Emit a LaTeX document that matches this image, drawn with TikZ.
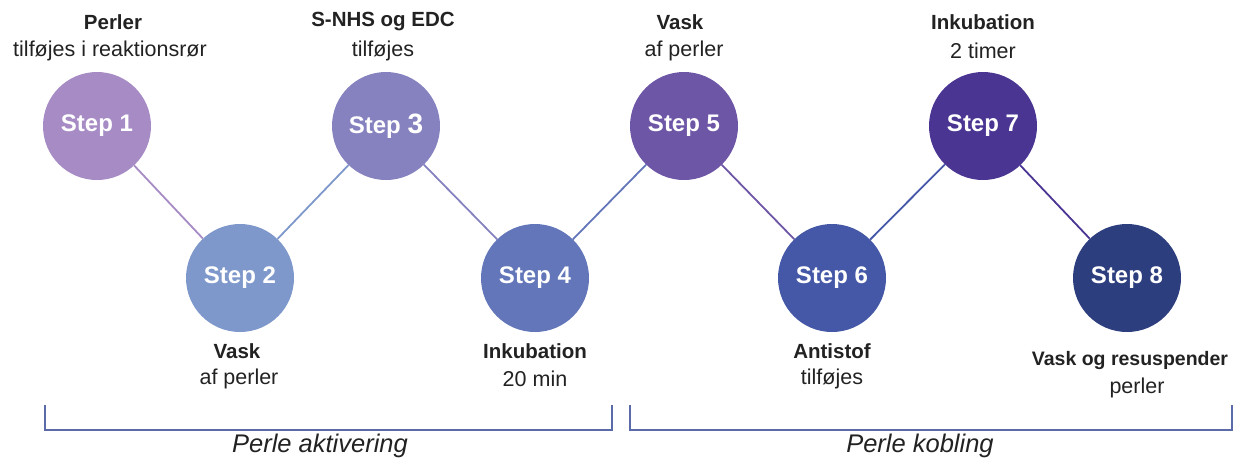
\documentclass[tikz,border=0pt]{standalone}
\usepackage{fontspec}
\setmainfont{Liberation Sans}
\definecolor{c1}{HTML}{A68BC5}
\definecolor{c2}{HTML}{7F98CB}
\definecolor{c3}{HTML}{8582BF}
\definecolor{c4}{HTML}{6276B9}
\definecolor{c5}{HTML}{6E56A7}
\definecolor{c6}{HTML}{4458A7}
\definecolor{c7}{HTML}{4A3593}
\definecolor{c8}{HTML}{2D3E7F}
\definecolor{txt}{HTML}{222222}
\definecolor{brk}{HTML}{5B6BA9}
\begin{document}
\begin{tikzpicture}[x=1pt,y=-1pt,
  stepnode/.style={circle,minimum size=108pt,inner sep=0pt,text=white,font=\fontsize{24}{27}\selectfont\bfseries},
  head/.style={text=txt,font=\fontsize{20.5}{23}\selectfont\bfseries,inner sep=0pt},
  sub/.style={text=txt,font=\fontsize{21.5}{24}\selectfont,inner sep=0pt},
  link/.style={line width=1.8pt},
  bracket/.style={draw=brk,line width=1.5pt},
  phase/.style={text=txt,font=\fontsize{25.5}{28}\selectfont\itshape,inner sep=0pt}]
\useasboundingbox (0,0) rectangle (1240,459);
\node[stepnode,fill=c1] (s1) at (97,126) {Step 1};
\node[stepnode,fill=c2] (s2) at (240,278) {Step 2};
\node[stepnode,fill=c3] (s3) at (386,126) {Step \fontsize{28}{30}\selectfont 3};
\node[stepnode,fill=c4] (s4) at (535,278) {Step 4};
\node[stepnode,fill=c5] (s5) at (684,126) {Step 5};
\node[stepnode,fill=c6] (s6) at (832,278) {Step 6};
\node[stepnode,fill=c7] (s7) at (983,126) {Step 7};
\node[stepnode,fill=c8] (s8) at (1127,278) {Step 8};
\draw[link,c1] (s1) -- (s2);
\draw[link,c2] (s2) -- (s3);
\draw[link,c3] (s3) -- (s4);
\draw[link,c4] (s4) -- (s5);
\draw[link,c5] (s5) -- (s6);
\draw[link,c6] (s6) -- (s7);
\draw[link,c7] (s7) -- (s8);
% top labels
\node[head] (h1) at (113,22) {Perler};
\node[sub] (t1) at (110,51) {tilføjes i reaktionsrør};
\node[head] (h3) at (383,22) {S-NHS og EDC};
\node[sub] (t3) at (383,51) {tilføjes};
\node[head] (h5) at (680,22) {Vask};
\node[sub] (t5) at (684,51) {af perler};
\node[head] (h7) at (983,22) {Inkubation};
\node[sub] (t7) at (983,51) {2 timer};
% bottom labels
\node[head] (h2) at (237,351) {Vask};
\node[sub] (t2) at (239,379) {af perler};
\node[head] (h4) at (535,351) {Inkubation};
\node[sub] (t4) at (535,379) {20 min};
\node[head] (h6) at (832,351) {Antistof};
\node[sub] (t6) at (832,379) {tilføjes};
\node[head,font=\fontsize{19.5}{22}\selectfont\bfseries] (h8) at (1130,360) {Vask og resuspender};
\node[sub] (t8) at (1137,388) {perler};
% brackets
\coordinate (a1) at (45,405);
\coordinate (a2) at (45,430);
\coordinate (a3) at (612,430);
\coordinate (a4) at (612,405);
\coordinate (b1) at (630,405);
\coordinate (b2) at (630,430);
\coordinate (b3) at (1232,430);
\coordinate (b4) at (1232,405);
\draw[bracket] (a1) -- (a2) -- (a3) -- (a4);
\draw[bracket] (b1) -- (b2) -- (b3) -- (b4);
\node[phase] (p1) at (320,446) {Perle aktivering};
\node[phase] (p2) at (920,446) {Perle kobling};
\end{tikzpicture}
\end{document}
